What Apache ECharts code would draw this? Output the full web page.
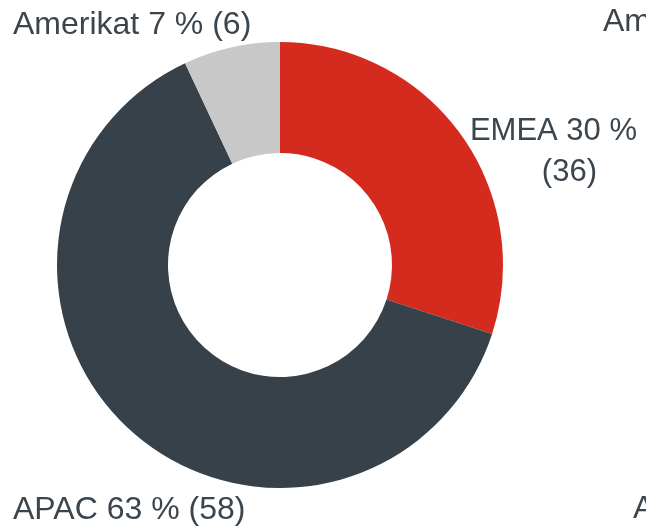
<!DOCTYPE html>
<html>
<head>
<meta charset="utf-8">
<script src="https://cdn.jsdelivr.net/npm/echarts@6/dist/echarts.min.js"></script>
<style>
  html, body { margin: 0; padding: 0; background: #fff; }
  #chart { width: 646px; height: 527px; }
</style>
</head>
<body>
<div id="chart"></div>
<script>
// alueet, osuus prosentteina ja lukumäärä suluissa
const regions = ['EMEA', 'APAC', 'Amerikat']
const shares = [30, 63, 7]
const counts = [36, 58, 6]
const colors = ['#d52b1e', '#37414a', '#c8c8c8']

// naapurikaavion otsikot, näkyvät vain osittain oikeassa reunassa
const sideLabels = ['Amerikat', 'APAC']

const textColor = '#3b454e'
const font = '"Liberation Sans", Arial, sans-serif'

// label placement per slice (same order as regions)
const labelSpots = [
  { x: 637, y: 152, align: 'right', verticalAlign: 'middle' },
  { x: 13, y: 510, align: 'left', verticalAlign: 'middle' },
  { x: 13, y: 25, align: 'left', verticalAlign: 'middle' }
]

const chart = echarts.init(document.getElementById('chart'))

const data = regions.map((name, i) => ({
  name,
  value: shares[i],
  itemStyle: { color: colors[i] }
}))

chart.setOption({
  animation: false,
  series: [
    {
      type: 'pie',
      center: [280, 265],
      radius: [112, 223],
      startAngle: 90,
      clockwise: true,
      avoidLabelOverlap: false,
      label: {
        show: true,
        position: 'outside',
        width: 330,
        overflow: 'none',
        color: textColor,
        fontFamily: font,
        fontSize: 32,
        lineHeight: 41,
        formatter: function (p) {
          const i = p.dataIndex
          const head = p.name + ' ' + shares[i] + ' %'
          if (i === 0) {
            return '{a|' + head + '}\n{b|(' + counts[i] + ')}'
          }
          return head + ' (' + counts[i] + ')'
        },
        rich: {
          a: { color: textColor, fontFamily: font, fontSize: 31, lineHeight: 41, align: 'right' },
          b: { color: textColor, fontFamily: font, fontSize: 31, lineHeight: 41, align: 'right', padding: [0, 40, 0, 0] }
        }
      },
      labelLine: { show: false },
      labelLayout: function (params) {
        return labelSpots[params.dataIndex]
      },
      emphasis: { disabled: true },
      data
    }
  ],
  graphic: [
    {
      type: 'text',
      x: 603,
      y: 22,
      style: { text: sideLabels[0], fill: textColor, font: '32px ' + font, verticalAlign: 'middle' }
    },
    {
      type: 'text',
      x: 633,
      y: 509,
      style: { text: sideLabels[1], fill: textColor, font: '32px ' + font, verticalAlign: 'middle' }
    }
  ]
})

window.addEventListener('resize', chart.resize)
</script>
</body>
</html>
